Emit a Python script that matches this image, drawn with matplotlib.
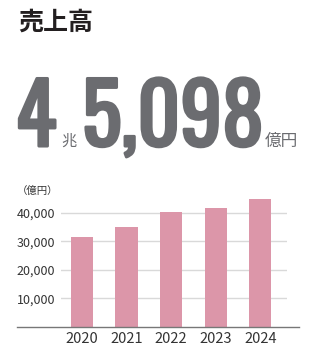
import matplotlib.pyplot as plt
from matplotlib.lines import Line2D
import matplotlib.patheffects as pe

years = ['2020', '2021', '2022', '2023', '2024']
sales = [31600, 35100, 40400, 41800, 45098]
yticks = [10000, 20000, 30000, 40000]
ytick_labels = ['10,000', '20,000', '30,000', '40,000']

plt.rcParams['font.family'] = ['Noto Sans CJK JP', 'DejaVu Sans']

W, H = 326, 358
fig = plt.figure(figsize=(W / 100, H / 100), dpi=100)

# header
fig.text(18 / W, 1 - 23 / H, '売上高', fontsize=18, fontweight='bold',
         color='#231f20', ha='left', va='center')

gray = '#6b6c70'
# Oswald only ships as a variable font here, so thicken it with a stroke
bold = [pe.withStroke(linewidth=2.2, foreground=gray)]
big = dict(family=['Oswald', 'Antonio', 'DejaVu Sans'], fontsize=60, color=gray,
           va='baseline', path_effects=bold)
base_y = 1 - 146 / H
fig.text(16 / W, base_y, '4', ha='left', **big)
fig.text(61 / W, base_y, '兆', fontsize=11, color=gray, ha='left', va='baseline')
fig.text(82 / W, base_y, '5,098', ha='left', **big)
fig.text(265 / W, base_y, '億円', fontsize=12, color=gray, ha='left', va='baseline')

# chart
ax = fig.add_axes([61 / W, 1 - 326.7 / H, 226 / W, (326.7 - 196) / H])
x = range(len(years))
ax.bar(x, sales, width=0.5, color='#dc96a9', zorder=2)
ax.set_xlim(-0.47, 4.6)
ax.set_ylim(0, 46000)
ax.set_yticks(yticks)
ax.set_yticklabels(ytick_labels)
ax.set_xticks(list(x))
ax.set_xticklabels(years)
ax.grid(axis='y', color='#d9d9d9', linewidth=1, zorder=0)
for s in ax.spines.values():
    s.set_visible(False)
ax.tick_params(axis='both', length=0, colors='#333333')
ax.tick_params(axis='y', labelsize=9, pad=4)
ax.tick_params(axis='x', labelsize=10.5, pad=4)

# baseline spans wider than the plot area
fig.add_artist(Line2D([17 / W, 299 / W], [1 - 326.7 / H] * 2, color='#777777', linewidth=1))

fig.text(17 / W, 1 - 191 / H, '（億円）', fontsize=7.5, color='#333333', ha='left', va='center')

fig.savefig('out.png', dpi=100)
